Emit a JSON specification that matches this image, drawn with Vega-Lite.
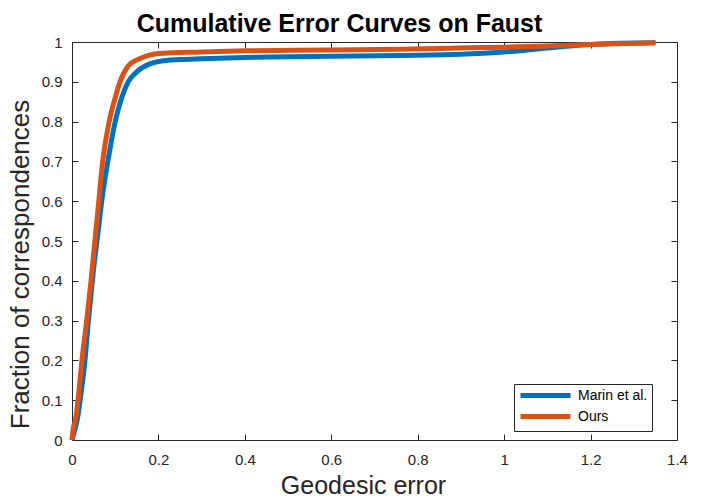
{
  "$schema": "https://vega.github.io/schema/vega-lite/v6.json",
  "width": 605,
  "height": 398,
  "autosize": "none",
  "padding": {"left": 72, "top": 42, "right": 29, "bottom": 60},
  "background": "white",
  "title": {
    "text": "Cumulative Error Curves on Faust",
    "font": "Liberation Sans",
    "fontSize": 25,
    "fontWeight": "bold",
    "color": "#000000",
    "anchor": "middle",
    "dx": -35,
    "offset": -4
  },
  "config": {
    "view": {"stroke": "#262626", "strokeWidth": 1},
    "axis": {
      "grid": false,
      "domain": false,
      "tickColor": "#262626",
      "tickSize": -6,
      "labelFont": "Liberation Sans",
      "labelFontSize": 15,
      "labelColor": "#262626",
      "titleFont": "Liberation Sans",
      "titleFontWeight": "normal",
      "titleColor": "#262626"
    }
  },
  "data": {
    "values": [
      {"series": "Marin et al.", "err": 0, "frac": 0},
      {"series": "Marin et al.", "err": 0.005, "frac": 0.02},
      {"series": "Marin et al.", "err": 0.01, "frac": 0.04},
      {"series": "Marin et al.", "err": 0.015, "frac": 0.07},
      {"series": "Marin et al.", "err": 0.02, "frac": 0.11},
      {"series": "Marin et al.", "err": 0.03, "frac": 0.2},
      {"series": "Marin et al.", "err": 0.038, "frac": 0.3},
      {"series": "Marin et al.", "err": 0.05, "frac": 0.43},
      {"series": "Marin et al.", "err": 0.06, "frac": 0.52},
      {"series": "Marin et al.", "err": 0.07, "frac": 0.61},
      {"series": "Marin et al.", "err": 0.083, "frac": 0.7},
      {"series": "Marin et al.", "err": 0.1, "frac": 0.8},
      {"series": "Marin et al.", "err": 0.115, "frac": 0.86},
      {"series": "Marin et al.", "err": 0.13, "frac": 0.9},
      {"series": "Marin et al.", "err": 0.15, "frac": 0.925},
      {"series": "Marin et al.", "err": 0.18, "frac": 0.945},
      {"series": "Marin et al.", "err": 0.2, "frac": 0.951},
      {"series": "Marin et al.", "err": 0.25, "frac": 0.956},
      {"series": "Marin et al.", "err": 0.3, "frac": 0.958},
      {"series": "Marin et al.", "err": 0.4, "frac": 0.961},
      {"series": "Marin et al.", "err": 0.5, "frac": 0.963},
      {"series": "Marin et al.", "err": 0.6, "frac": 0.964},
      {"series": "Marin et al.", "err": 0.76, "frac": 0.966},
      {"series": "Marin et al.", "err": 0.9, "frac": 0.969},
      {"series": "Marin et al.", "err": 1.0, "frac": 0.975},
      {"series": "Marin et al.", "err": 1.1, "frac": 0.985},
      {"series": "Marin et al.", "err": 1.19, "frac": 0.993},
      {"series": "Marin et al.", "err": 1.25, "frac": 0.996},
      {"series": "Marin et al.", "err": 1.35, "frac": 0.998},
      {"series": "Ours", "err": 0, "frac": 0},
      {"series": "Ours", "err": 0.003, "frac": 0.03},
      {"series": "Ours", "err": 0.008, "frac": 0.05},
      {"series": "Ours", "err": 0.014, "frac": 0.1},
      {"series": "Ours", "err": 0.023, "frac": 0.2},
      {"series": "Ours", "err": 0.034, "frac": 0.3},
      {"series": "Ours", "err": 0.044, "frac": 0.4},
      {"series": "Ours", "err": 0.053, "frac": 0.5},
      {"series": "Ours", "err": 0.062, "frac": 0.6},
      {"series": "Ours", "err": 0.071, "frac": 0.7},
      {"series": "Ours", "err": 0.086, "frac": 0.8},
      {"series": "Ours", "err": 0.1, "frac": 0.86},
      {"series": "Ours", "err": 0.111, "frac": 0.9},
      {"series": "Ours", "err": 0.13, "frac": 0.94},
      {"series": "Ours", "err": 0.15, "frac": 0.955},
      {"series": "Ours", "err": 0.175, "frac": 0.966},
      {"series": "Ours", "err": 0.2, "frac": 0.971},
      {"series": "Ours", "err": 0.3, "frac": 0.975},
      {"series": "Ours", "err": 0.4, "frac": 0.978},
      {"series": "Ours", "err": 0.6, "frac": 0.98},
      {"series": "Ours", "err": 0.76, "frac": 0.982},
      {"series": "Ours", "err": 0.9, "frac": 0.985},
      {"series": "Ours", "err": 1.0, "frac": 0.987},
      {"series": "Ours", "err": 1.1, "frac": 0.99},
      {"series": "Ours", "err": 1.2, "frac": 0.994},
      {"series": "Ours", "err": 1.35, "frac": 0.998}
    ]
  },
  "layer": [
    {
      "mark": {"type": "line", "strokeWidth": 5, "interpolate": "monotone", "strokeCap": "butt"},
      "encoding": {
        "x": {
          "field": "err", "type": "quantitative",
          "scale": {"domain": [0, 1.4], "nice": false, "zero": false},
          "axis": {
            "orient": "bottom",
            "values": [0, 0.2, 0.4, 0.6, 0.8, 1, 1.2, 1.4],
            "labelExpr": "format(datum.value, '~g')",
            "labelPadding": 18,
            "labelFlush": false,
            "title": "Geodesic error",
            "titleFontSize": 25,
            "titlePadding": 6,
            "titleX": 291
          }
        },
        "y": {
          "field": "frac", "type": "quantitative",
          "scale": {"domain": [0, 1], "nice": false, "zero": false},
          "axis": {
            "orient": "left",
            "values": [0, 0.1, 0.2, 0.3, 0.4, 0.5, 0.6, 0.7, 0.8, 0.9, 1],
            "labelExpr": "format(datum.value, '~g')",
            "labelPadding": 16,
            "labelFlush": false,
            "title": "Fraction of correspondences",
            "titleFontSize": 26,
            "titlePadding": 8,
            "titleY": 222
          }
        },
        "color": {
          "field": "series", "type": "nominal",
          "scale": {"domain": ["Marin et al.", "Ours"], "range": ["#0072BD", "#D95319"]},
          "legend": {
            "title": null,
            "orient": "none",
            "legendX": 442,
            "legendY": 342,
            "symbolType": "M -1 0 L 9 0",
            "symbolSize": 100,
            "symbolStrokeWidth": 5,
            "labelFont": "Liberation Sans",
            "labelFontSize": 14,
            "labelColor": "#000000",
            "strokeColor": "#262626",
            "fillColor": "white",
            "padding": 4,
            "rowPadding": 0,
            "labelOffset": 45
          }
        }
      }
    },
    {
      "mark": {"type": "line", "strokeOpacity": 0},
      "encoding": {
        "x": {
          "field": "err", "type": "quantitative",
          "axis": {"orient": "top", "values": [0, 0.2, 0.4, 0.6, 0.8, 1, 1.2, 1.4], "labels": false, "title": null}
        },
        "y": {
          "field": "frac", "type": "quantitative",
          "axis": {"orient": "right", "values": [0, 0.1, 0.2, 0.3, 0.4, 0.5, 0.6, 0.7, 0.8, 0.9, 1], "labels": false, "title": null}
        },
        "detail": {"field": "series", "type": "nominal"}
      }
    }
  ],
  "resolve": {"axis": {"x": "independent", "y": "independent"}}
}
